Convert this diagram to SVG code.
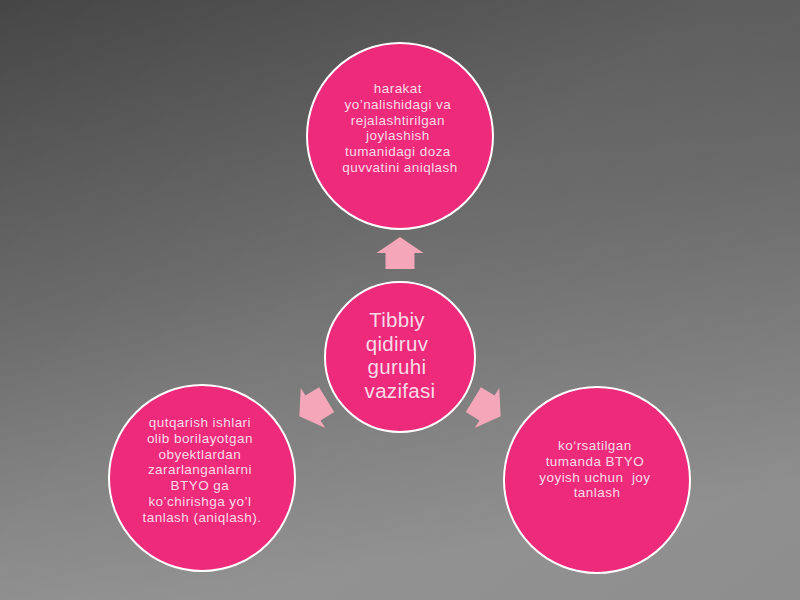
<svg xmlns="http://www.w3.org/2000/svg" width="800" height="600" viewBox="0 0 800 600">
  <defs>
    <linearGradient id="bg" x1="0" y1="0" x2="0.25" y2="1">
      <stop offset="0" stop-color="#464646"/>
      <stop offset="0.5" stop-color="#656565"/>
      <stop offset="1" stop-color="#8e8e8e"/>
    </linearGradient>
    <linearGradient id="band" x1="0" y1="0" x2="1" y2="1">
      <stop offset="0" stop-color="#ffffff" stop-opacity="0"/>
      <stop offset="0.45" stop-color="#ffffff" stop-opacity="0.06"/>
      <stop offset="1" stop-color="#ffffff" stop-opacity="0"/>
    </linearGradient>
    <path id="arrow" d="M0,-16 L23.5,0 L14.5,0 L14.5,16 L-14.5,16 L-14.5,0 L-23.5,0 Z"/>
  </defs>
  <style>
    .node { fill: #EE2A7B; stroke: #ffffff; stroke-width: 2; }
    .arr { fill: #F4A7B9; }
    .t { font-family: "Liberation Sans", Arial, sans-serif; fill: #FADCE7; text-anchor: middle; }
    .s { font-size: 13.5px; letter-spacing: 0.45px; }
    .b { font-size: 20.5px; letter-spacing: 0.3px; }
  </style>
  <rect width="800" height="600" fill="url(#bg)"/>
  <rect width="800" height="600" fill="url(#band)"/>

  <g id="connectors">
    <use href="#arrow" class="arr" transform="translate(400,253)"/>
    <use href="#arrow" class="arr" transform="translate(313,408) rotate(-121.4)"/>
    <use href="#arrow" class="arr" transform="translate(487,408) rotate(121.4)"/>
  </g>

  <g id="node-top">
    <circle class="node" cx="400" cy="136" r="93"/>
    <text class="t s">
      <tspan x="400" y="93">harakat</tspan>
      <tspan x="400" y="108.8">yo’nalishidagi va</tspan>
      <tspan x="400" y="124.6">rejalashtirilgan</tspan>
      <tspan x="400" y="140.4">joylashish</tspan>
      <tspan x="400" y="156.2">tumanidagi doza</tspan>
      <tspan x="400" y="172">quvvatini aniqlash</tspan>
    </text>
  </g>

  <g id="node-center">
    <circle class="node" cx="400" cy="357" r="75"/>
    <text class="t b">
      <tspan x="400" y="327">Tibbiy</tspan>
      <tspan x="400" y="350.7">qidiruv</tspan>
      <tspan x="400" y="374.4">guruhi</tspan>
      <tspan x="400" y="398">vazifasi</tspan>
    </text>
  </g>

  <g id="node-left">
    <circle class="node" cx="202" cy="478" r="93"/>
    <text class="t s">
      <tspan x="202" y="427">qutqarish ishlari</tspan>
      <tspan x="202" y="442.8">olib borilayotgan</tspan>
      <tspan x="202" y="458.6">obyektlardan</tspan>
      <tspan x="202" y="474.4">zararlanganlarni</tspan>
      <tspan x="202" y="490.2">BTYO ga</tspan>
      <tspan x="202" y="506">ko’chirishga yo’l</tspan>
      <tspan x="202" y="521.8">tanlash (aniqlash).</tspan>
    </text>
  </g>

  <g id="node-right">
    <circle class="node" cx="597" cy="480" r="93"/>
    <text class="t s">
      <tspan x="597" y="450">ko‘rsatilgan</tspan>
      <tspan x="597" y="465.8">tumanda BTYO</tspan>
      <tspan x="597" y="481.6" xml:space="preserve">yoyish uchun  joy</tspan>
      <tspan x="597" y="497.4">tanlash</tspan>
    </text>
  </g>
</svg>
